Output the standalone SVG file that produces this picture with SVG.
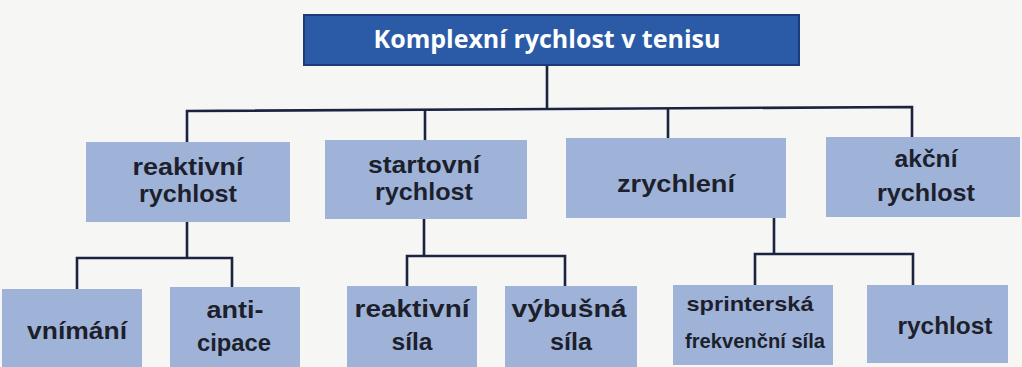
<svg xmlns="http://www.w3.org/2000/svg" width="1022" height="367" viewBox="0 0 1022 367">
<style>
.box{fill:#9fb3d8;}
.top{fill:#2b5ba7;stroke:#1b3b7a;stroke-width:2;}
.t{font-family:"Liberation Sans",Arial,sans-serif;font-weight:700;font-size:24px;fill:#1d1f2c;text-anchor:middle;}
.ts{font-size:21px;}
.tw{font-family:"Open Sans","Noto Sans",sans-serif;fill:#ffffff;font-size:25px;}
.ln{fill:none;stroke:#1b2341;stroke-width:2.6;stroke-linejoin:miter;}
</style>
<rect x="0" y="0" width="1022" height="367" fill="#f6f6f4"/>
<g id="connectors">
<path class="ln" d="M547 65 V109"/>
<path class="ln" d="M187 142 V111 L912 107 V137"/>
<path class="ln" d="M425 140 V110"/>
<path class="ln" d="M668 138 V108"/>
<path class="ln" d="M187 222 V258"/>
<path class="ln" d="M77 289 V258 H232 V287"/>
<path class="ln" d="M424 219 V256"/>
<path class="ln" d="M407 286 V256 H565 V286"/>
<path class="ln" d="M774 218 V254"/>
<path class="ln" d="M755 285 V254 H913 V285"/>
</g>
<g id="n-root">
<rect class="top" x="304" y="15" width="495" height="50"/>
<text class="t tw" x="547" y="48">Komplexní rychlost v tenisu</text>
</g>
<g id="n-reaktivni-rychlost">
<rect class="box" x="86" y="142" width="204" height="80"/>
<text class="t" x="188" y="175" textLength="111" lengthAdjust="spacingAndGlyphs">reaktivní</text>
<text class="t" x="188" y="202" textLength="98" lengthAdjust="spacingAndGlyphs">rychlost</text>
</g>
<g id="n-startovni-rychlost">
<rect class="box" x="325" y="140" width="202" height="79"/>
<text class="t" x="424" y="173" textLength="112" lengthAdjust="spacingAndGlyphs">startovní</text>
<text class="t" x="424" y="200" textLength="98" lengthAdjust="spacingAndGlyphs">rychlost</text>
</g>
<g id="n-zrychleni">
<rect class="box" x="566" y="138" width="220" height="80"/>
<text class="t" x="676" y="192" textLength="118" lengthAdjust="spacingAndGlyphs">zrychlení</text>
</g>
<g id="n-akcni-rychlost">
<rect class="box" x="826" y="137" width="194" height="80"/>
<text class="t" x="926" y="167" textLength="63" lengthAdjust="spacingAndGlyphs">akční</text>
<text class="t" x="926" y="201" textLength="98" lengthAdjust="spacingAndGlyphs">rychlost</text>
</g>
<g id="n-vnimani">
<rect class="box" x="2" y="289" width="140" height="78"/>
<text class="t" x="77" y="339" textLength="100" lengthAdjust="spacingAndGlyphs">vnímání</text>
</g>
<g id="n-anticipace">
<rect class="box" x="170" y="287" width="130" height="80"/>
<text class="t" x="235" y="318" textLength="57" lengthAdjust="spacingAndGlyphs">anti-</text>
<text class="t" x="234" y="351" textLength="74" lengthAdjust="spacingAndGlyphs">cipace</text>
</g>
<g id="n-reaktivni-sila">
<rect class="box" x="347" y="286" width="130" height="81"/>
<text class="t" x="412" y="317" textLength="115" lengthAdjust="spacingAndGlyphs">reaktivní</text>
<text class="t" x="412" y="350" textLength="41" lengthAdjust="spacingAndGlyphs">síla</text>
</g>
<g id="n-vybusna-sila">
<rect class="box" x="505" y="286" width="132" height="81"/>
<text class="t" x="569" y="317" textLength="115" lengthAdjust="spacingAndGlyphs">výbušná</text>
<text class="t" x="571" y="350" textLength="42" lengthAdjust="spacingAndGlyphs">síla</text>
</g>
<g id="n-sprinterska">
<rect class="box" x="673" y="285" width="160" height="80"/>
<text class="t ts" x="750" y="311" textLength="127" lengthAdjust="spacingAndGlyphs">sprinterská</text>
<text class="t ts" x="755" y="348" textLength="140" lengthAdjust="spacingAndGlyphs">frekvenční síla</text>
</g>
<g id="n-rychlost">
<rect class="box" x="867" y="285" width="141" height="78"/>
<text class="t" x="945" y="334" textLength="95" lengthAdjust="spacingAndGlyphs">rychlost</text>
</g>
</svg>
